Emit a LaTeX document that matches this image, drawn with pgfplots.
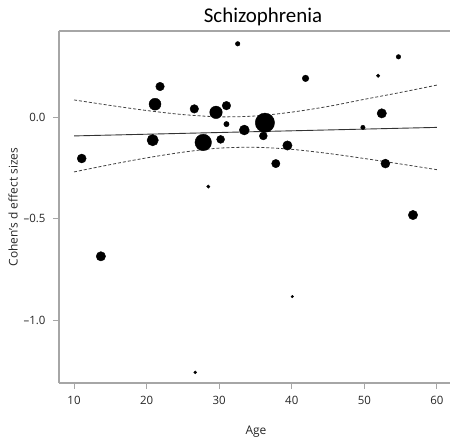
\documentclass[border=0pt]{standalone}
\usepackage{pgfplots}
\pgfplotsset{compat=1.18}
\usepackage{pgfplotstable}
\usepackage{fontspec}
\setmainfont{Open Sans}
\newfontfamily\titlefont{Carlito}

% age, Cohen's d, marker radius (study weight)
\pgfplotstableread{
age d r
32.55 0.360 2.3
54.70 0.296 2.3
41.90 0.190 3.3
51.90 0.203 1.8
21.85 0.150 4.3
21.16 0.063 6.0
26.57 0.040 4.3
29.56 0.023 6.3
31.00 0.056 4.3
52.40 0.018 4.7
36.30 -0.028 9.7
31.00 -0.035 2.7
49.80 -0.051 2.2
33.46 -0.064 5.0
36.08 -0.093 4.0
20.84 -0.114 5.7
27.80 -0.125 8.3
30.20 -0.110 4.0
39.40 -0.140 4.7
11.06 -0.204 4.5
37.80 -0.229 4.2
52.90 -0.229 4.5
28.50 -0.342 1.7
56.70 -0.482 4.7
13.70 -0.685 4.7
40.07 -0.883 1.3
26.70 -1.256 1.5
}\studies

\pgfplotstableread{
age up lo
10 0.084 -0.270
15 0.057 -0.234
20 0.032 -0.201
25 0.012 -0.173
30 0.001 -0.153
35 0.005 -0.149
40 0.024 -0.159
45 0.052 -0.179
50 0.087 -0.204
55 0.121 -0.231
60 0.157 -0.259
}\band

\begin{document}
\begin{tikzpicture}
\begin{axis}[
  at={(0,0)}, anchor=south west,
  width=391bp, height=352bp, scale only axis,
  xmin=7.93, xmax=61.8, ymin=-1.308, ymax=0.423,
  axis x line*=bottom, axis y line*=left,
  axis line style={gray!70, line width=1.1pt, -},
  xtick={10,20,30,40,50,60},
  ytick={-1,-0.5,0},
  yticklabels={–1.0,–0.5,0.0},
  tick align=outside,
  major tick length=6bp,
  tick style={gray!70, line width=0.9pt},
  tick label style={font=\fontsize{11.5}{13}\selectfont, black!85},
  xticklabel style={yshift=-4bp},
  yticklabel style={xshift=-4bp},
  /pgf/number format/assume math mode=true,
  clip=false,
]
\addplot[densely dashed, black!75, line width=0.8pt, smooth] table[x=age, y=up] {\band};
\addplot[densely dashed, black!75, line width=0.8pt, smooth] table[x=age, y=lo] {\band};
\addplot[black!80, line width=0.9pt] coordinates {(10,-0.093) (60,-0.051)};
\addplot[scatter, only marks, mark=*,
  scatter/use mapped color={draw=black, fill=black},
  visualization depends on={\thisrow{r} \as \rad},
  scatter/@pre marker code/.append style={/tikz/mark size=\rad}]
  table[x=age, y=d] {\studies};
\end{axis}
\draw[gray!70, line width=1.1pt] (0,352bp) -- (391bp,352bp);
\node[anchor=base] at (204bp,360bp) {\titlefont\fontsize{21}{25}\selectfont Schizophrenia};
\node[anchor=base, font=\fontsize{12}{14}\selectfont, black!85] at (197bp,-51bp) {Age};
\node[rotate=90, font=\fontsize{12}{14}\selectfont, black!85] at (-46bp,176bp) {Cohen's d effect sizes};
\pgfresetboundingbox
\useasboundingbox (-59bp,-62bp) rectangle (391bp,383bp);
\end{tikzpicture}
\end{document}
